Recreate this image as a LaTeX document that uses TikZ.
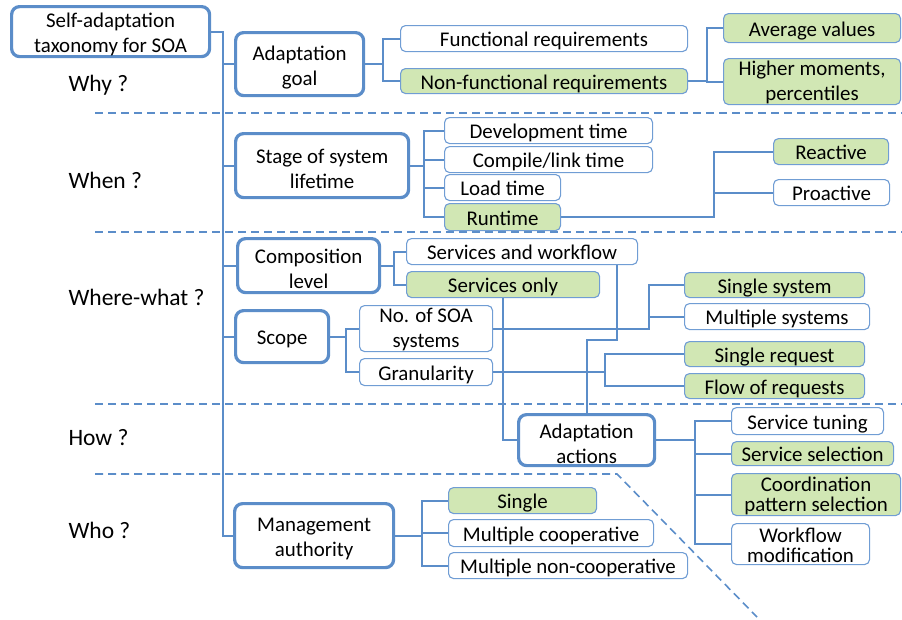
\documentclass[tikz,border=0pt]{standalone}
\usepackage{fontspec}
\setmainfont{Carlito}
\usetikzlibrary{calc,backgrounds}
\definecolor{lblue}{RGB}{91,141,201}
\definecolor{tblue}{RGB}{112,157,212}
\definecolor{lgreen}{RGB}{209,231,180}
\newcommand\upstrut[1]{\rule{0pt}{#1pt}}
\begin{document}
\begin{tikzpicture}[x=1pt,y=-1pt,
  font=\fontsize{20.9}{25}\selectfont,
  wh/.style 2 args={minimum width=#1pt, minimum height=#2pt},
  big/.style={draw=lblue, line width=3.2pt, rounded corners=8pt, fill=white, align=center, inner sep=0pt, anchor=north west},
  sm/.style={draw=tblue, line width=1.1pt, rounded corners=5pt, fill=white, align=center, inner sep=0pt, anchor=north west},
  gr/.style={sm, fill=lgreen},
  one/.style={text height=19pt, text depth=3pt},
  tight/.style={font=\fontsize{20.9}{20}\selectfont},
  conn/.style={draw=lblue, line width=2pt},
  sepline/.style={draw=lblue, line width=1.6pt, dash pattern=on 8pt off 5pt},
  qlab/.style={anchor=west, font=\fontsize{23.5}{28}\selectfont}]
\useasboundingbox (0,0) rectangle (902,619);

% level 1
\node[big, wh={198}{50}] (root) at (10,5) {\upstrut{21}Self-adaptation\\taxonomy for SOA};
\node[big, wh={128}{63}] (ag) at (234,31) {\upstrut{21}Adaptation\\goal};
\node[big, wh={173}{64}] (st) at (234,132) {\upstrut{21}Stage of system\\lifetime};
\node[big, wh={142}{54}] (cl) at (236,237) {\upstrut{21}Composition\\level};
\node[big, one, wh={93}{52}] (sc) at (234,309) {Scope};
\node[big, wh={136}{51}] (aa) at (517,413) {\upstrut{21}Adaptation\\actions};
\node[big, wh={159}{64}] (ma) at (233,502) {\upstrut{21}Management\\authority};

% level 2
\node[sm, one, wh={287}{26}] (fr) at (400,25) {Functional requirements};
\node[gr, one, wh={287}{25}] (nf) at (400,68) {Non-functional requirements};
\node[gr, one, wh={177}{29}] (av) at (723,13) {Average values};
\node[gr, wh={177}{46}] (hm) at (723,58) {\upstrut{17}Higher moments,\\percentiles};
\node[sm, one, wh={208}{26}] (dev) at (444,117) {Development time};
\node[sm, one, wh={208}{26}] (cmp) at (444,146) {Compile/link time};
\node[sm, one, wh={116}{26}] (lt) at (444,174) {Load time};
\node[gr, one, wh={116}{27}] (rt) at (444,203) {Runtime};
\node[gr, one, wh={115}{26}] (re) at (773,138) {Reactive};
\node[sm, one, wh={116}{26}] (pr) at (773,179) {Proactive};
\node[sm, one, wh={231}{26}] (sw) at (406,238) {Services and workflow};
\node[gr, one, wh={193}{26}] (so) at (406,271) {Services only};
\node[sm, wh={133}{46}] (nos) at (359,305) {\upstrut{17}No. of SOA\\systems};
\node[sm, one, wh={133}{27}] (gran) at (359,358) {Granularity};
\node[gr, one, wh={180}{25}] (ss) at (684,272) {Single system};
\node[sm, one, wh={185}{26}] (ms) at (684,303) {Multiple systems};
\node[gr, one, wh={180}{25}] (sr) at (684,341) {Single request};
\node[gr, one, wh={180}{25}] (fq) at (684,373) {Flow of requests};
\node[sm, one, wh={152}{27}] (stn) at (731,407) {Service tuning};
\node[gr, one, wh={162}{24}] (ssel) at (731,441) {Service selection};
\node[gr, tight, wh={169}{42}] (cps) at (731,473) {\upstrut{17}Coordination\\pattern selection};
\node[sm, tight, wh={138}{41}] (wm) at (731,523) {\upstrut{17}Workflow\\modification};
\node[gr, one, wh={148}{26}] (sgl) at (448,487) {Single};
\node[sm, one, wh={205}{27}] (mc) at (448,519) {Multiple cooperative};
\node[sm, one, wh={239}{26}] (mnc) at (448,552) {Multiple non-cooperative};

% question labels
\node[qlab] (why) at (65,85) {Why ?};
\node[qlab] (when) at (65,180) {When ?};
\node[qlab] (where) at (65,297) {Where-what ?};
\node[qlab] (how) at (65,438) {How ?};
\node[qlab] (who) at (65,530) {Who ?};

\begin{scope}[on background layer]
  % separators
  \draw[sepline] (95,113) -- (902,113);
  \draw[sepline] (95,232) -- (902,232);
  \draw[sepline] (95,404) -- (902,404);
  \draw[sepline] (95,474) -- (617,474) -- (757,617);

  % trunk
  \draw[conn] (root.east) -- ++(12,0) coordinate (tr) |- (ma.west);
  \draw[conn] (tr) |- (ag.west);
  \draw[conn] (tr) |- (st.west);
  \draw[conn] (tr) |- (cl.west);
  \draw[conn] (tr) |- (sc.west);

  % adaptation goal
  \draw[conn] (ag.east) -- ++(18,0) coordinate (b1) |- (fr.west);
  \draw[conn] (b1) |- (nf.west);
  \draw[conn] (nf.east) -- ++(19,0) coordinate (b4) |- (av.west);
  \draw[conn] (b4) |- (hm.west);

  % stage
  \draw[conn] (st.east) -- ++(14,0) coordinate (b2) |- (dev.west);
  \draw[conn] (b2) |- (cmp.west);
  \draw[conn] (b2) |- (lt.west);
  \draw[conn] (b2) |- (rt.west);
  \draw[conn] (rt.east) -- ++(153,0) coordinate (b3) |- (re.west);
  \draw[conn] (b3) |- (pr.west);

  % composition
  \draw[conn] (cl.east) -- ++(13,0) coordinate (b5) |- (sw.west);
  \draw[conn] (b5) |- (so.west);

  % scope
  \draw[conn] (sc.east) -- ++(16,0) coordinate (b6) |- (nos.west);
  \draw[conn] (b6) |- (gran.west);
  \draw[conn] (nos.east) -- ++(156,0) coordinate (b7) |- (ss.west);
  \draw[conn] (b7) |- (ms.west);
  \draw[conn] (gran.east) -- ++(112,0) coordinate (b8) |- (sr.west);
  \draw[conn] (b8) |- (fq.west);

  % adaptation actions
  \draw[conn] ([xshift=-21pt]sw.south east) -- ++(0,75) -| (aa.north);
  \draw[conn] (so.south) |- (aa.west);
  \draw[conn] (aa.east) -- ++(39,0) coordinate (b9) |- (stn.west);
  \draw[conn] (b9) |- (ssel.west);
  \draw[conn] (b9) |- (cps.west);
  \draw[conn] (b9) |- (wm.west);

  % management
  \draw[conn] (ma.east) -- ++(27,0) coordinate (b10) |- (sgl.west);
  \draw[conn] (b10) |- (mc.west);
  \draw[conn] (b10) |- (mnc.west);
\end{scope}
\end{tikzpicture}
\end{document}
